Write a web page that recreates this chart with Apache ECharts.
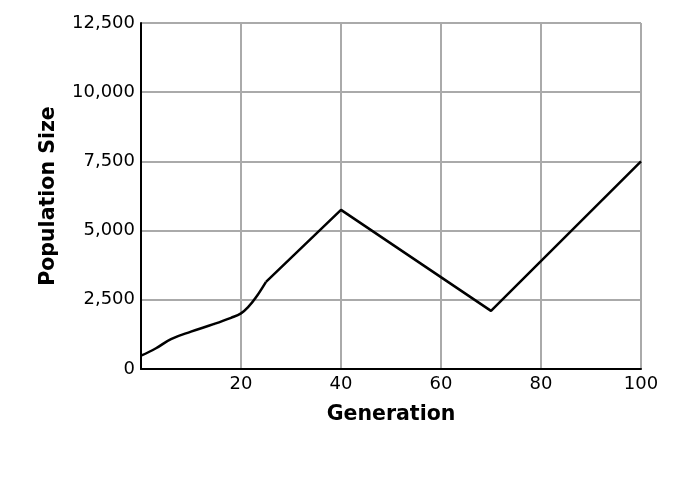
<!DOCTYPE html>
<html><head><meta charset="utf-8">
<script src="https://cdn.jsdelivr.net/npm/echarts@6/dist/echarts.min.js"></script>
<style>html,body{margin:0;padding:0;background:#fff}#c{width:698px;height:480px}</style>
</head><body><div id="c"></div>
<script>
var earlyGen = [0, 3, 6, 10, 14.5, 18, 20, 21.5, 23, 25];
var earlyPop = [480, 750, 1080, 1350, 1620, 1850, 2010, 2250, 2590, 3150];
var lateGen = [25, 40, 70, 100];
var latePop = [3150, 5750, 2100, 7500];
var yTicks = [0, 2500, 5000, 7500, 10000, 12500];
var xTicks = [0, 20, 40, 60, 80, 100];

function pairs(a, b) { return a.map(function (v, i) { return [v, b[i]]; }); }
var font = 'Verdana, "DejaVu Sans", sans-serif';
var chart = echarts.init(document.getElementById('c'));
chart.setOption({
  animation: false,
  grid: { left: 141, right: 57, top: 23, bottom: 111 },
  xAxis: {
    type: 'value', min: xTicks[0], max: xTicks[xTicks.length - 1], interval: 20,
    name: 'Generation', nameLocation: 'middle', nameGap: 35,
    nameTextStyle: { fontFamily: font, fontWeight: 'bold', fontSize: 20.5, color: '#000' },
    axisLine: { show: true, lineStyle: { color: '#000', width: 2 } },
    axisTick: { show: false },
    axisLabel: { fontFamily: font, fontSize: 18, color: '#000', margin: 6,
      formatter: function (v) { return v === 0 ? '' : String(v); } },
    splitLine: { show: true, lineStyle: { color: '#aaa', width: 2 } }
  },
  yAxis: {
    type: 'value', min: yTicks[0], max: yTicks[yTicks.length - 1], interval: 2500,
    name: 'Population Size', nameLocation: 'middle', nameGap: 82, nameRotate: 90,
    nameTextStyle: { fontFamily: font, fontWeight: 'bold', fontSize: 20.5, color: '#000' },
    axisLine: { show: true, lineStyle: { color: '#000', width: 2 } },
    axisTick: { show: false },
    axisLabel: { fontFamily: font, fontSize: 18, color: '#000', margin: 6,
      formatter: function (v) { return v.toLocaleString('en-US'); } },
    splitLine: { show: true, lineStyle: { color: '#aaa', width: 2 } }
  },
  series: [
    { type: 'line', data: pairs(earlyGen, earlyPop), smooth: 0.4, showSymbol: false,
      lineStyle: { color: '#000', width: 2.5 }, z: 3 },
    { type: 'line', data: pairs(lateGen, latePop), smooth: false, showSymbol: false,
      lineStyle: { color: '#000', width: 2.5 }, z: 3 }
  ]
});
</script></body></html>
